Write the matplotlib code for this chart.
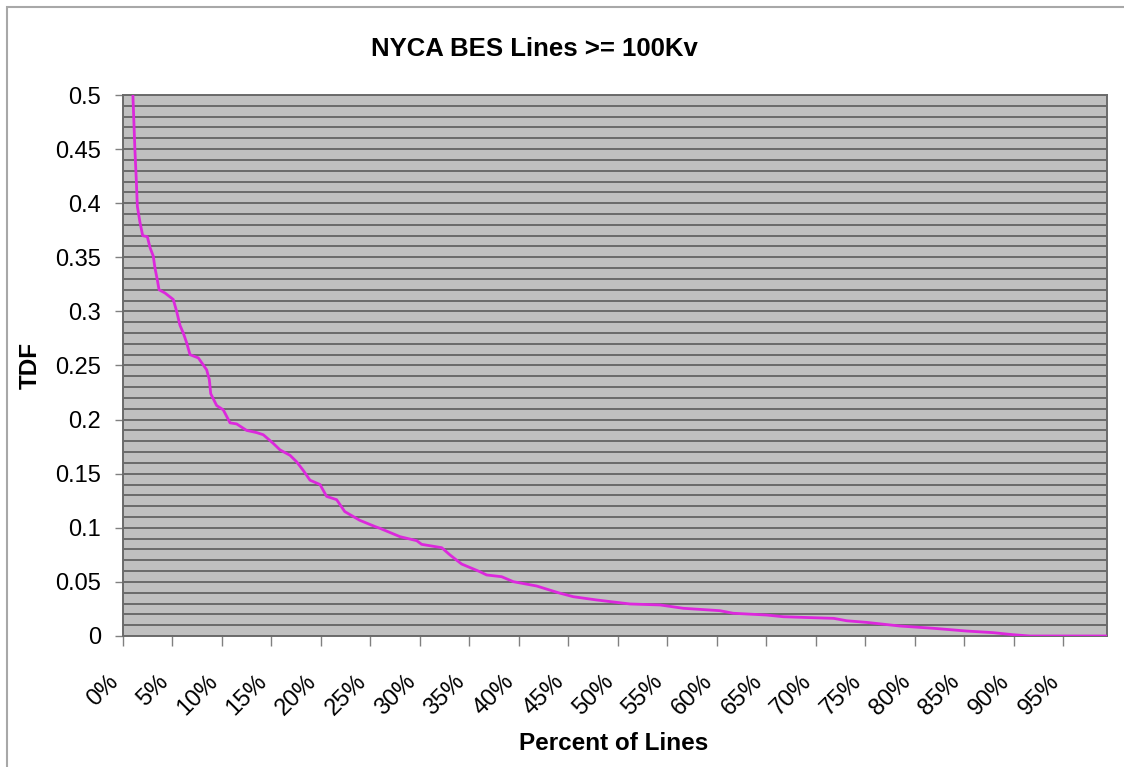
"""NYCA BES lines >= 100 kV: TDF distribution curve (Excel-style recreation)."""
import matplotlib
matplotlib.use("Agg")
import matplotlib.pyplot as plt
import matplotlib.transforms as mtransforms
from matplotlib.patches import Rectangle
from matplotlib.ticker import MultipleLocator, FuncFormatter

plt.rcParams["font.family"] = ["Liberation Sans", "DejaVu Sans"]

# Percent of lines (x) vs TDF (y)
pct_lines = [
    1.0, 1.2, 1.35, 1.45, 1.72, 1.99, 2.46, 2.73, 3.06, 3.23, 3.47, 3.64,
    4.24, 5.08, 5.42, 5.76, 6.09, 6.43, 6.77, 7.61, 8.45, 8.72, 8.86, 9.46,
    10.13, 10.81, 11.48, 12.49, 13.5, 14.17, 15.18, 15.86, 16.87, 17.54,
    18.21, 18.89, 19.9, 20.57, 21.58, 22.4, 23.9, 25.5, 25.96, 27.98, 29.67,
    30.17, 32.2, 33.03, 34.21, 36.06, 36.74, 38.25, 39.43, 41.79, 43.97,
    45.49, 47.85, 51.21, 54.24, 56.6, 60.3, 61.65, 65.0, 66.7, 71.8, 73.1,
    75.1, 78.5, 81.9, 85.2, 87.9, 89.9, 91.6, 99.4,
]
tdf = [
    0.5, 0.45, 0.42, 0.397, 0.382, 0.370, 0.369, 0.359, 0.351, 0.340, 0.329,
    0.320, 0.317, 0.311, 0.300, 0.287, 0.280, 0.271, 0.260, 0.257, 0.246,
    0.237, 0.224, 0.213, 0.209, 0.197, 0.196, 0.190, 0.188, 0.186, 0.178,
    0.172, 0.167, 0.161, 0.153, 0.144, 0.140, 0.129, 0.126, 0.115, 0.107,
    0.101, 0.0995, 0.0918, 0.0881, 0.0847, 0.0816, 0.0749, 0.0665, 0.0594,
    0.0564, 0.0548, 0.0502, 0.0462, 0.040, 0.0363, 0.0333, 0.0296, 0.0287,
    0.0256, 0.0234, 0.021, 0.0194, 0.0178, 0.0163, 0.0141, 0.0126, 0.0092,
    0.0071, 0.0046, 0.0031, 0.0012, 0.0, 0.0,
]
x_ticks = list(range(0, 100, 5))

W, H = 1124, 767
fig = plt.figure(figsize=(W / 100, H / 100), dpi=100)
ax = fig.add_axes([123 / W, 1 - 636 / H, (1107 - 123) / W, (636 - 95) / H])

ax.set_facecolor("#c0c0c0")
ax.plot(pct_lines, tdf, color="#dc28dc", linewidth=2.0, clip_on=True, zorder=3)

ax.set_xlim(0, 99.4)
ax.set_ylim(0, 0.5)
ax.yaxis.set_major_locator(MultipleLocator(0.05))
ax.yaxis.set_minor_locator(MultipleLocator(0.01))
ax.yaxis.set_major_formatter(FuncFormatter(lambda v, _: f"{v:.2f}".rstrip("0").rstrip(".") if v else "0"))
ax.set_xticks(x_ticks)
ax.set_xticklabels([f"{t}%" for t in x_ticks], rotation=45, ha="right", va="top")
offset = mtransforms.ScaledTranslation(-8 / 100, 0, fig.dpi_scale_trans)
for lbl in ax.get_xticklabels():
    lbl.set_transform(lbl.get_transform() + offset)

ax.grid(True, which="both", axis="y", color="#636363", linewidth=1.3, zorder=1)
ax.set_axisbelow(True)
ax.tick_params(axis="y", which="major", length=6, width=1, color="#808080",
               labelsize=17, pad=10)
ax.tick_params(axis="y", which="minor", length=0)
ax.tick_params(axis="x", length=7, width=1, color="#808080", labelsize=17, pad=18)
for s in ax.spines.values():
    s.set_color("#6a6a6a")
    s.set_linewidth(1.4)

fig.text(534 / W, 1 - 49 / H, "NYCA BES Lines >= 100Kv", ha="center", va="center",
         fontsize=18.5, fontweight="bold")
fig.text(614 / W, 1 - 743 / H, "Percent of Lines", ha="center", va="center",
         fontsize=17.5, fontweight="bold")
fig.text(30 / W, 1 - 365 / H, "TDF", ha="center", va="center", rotation=90,
         fontsize=17.5, fontweight="bold")

# outer chart border (right/bottom edges fall outside the image)
fig.patches.append(Rectangle((7 / W, -0.1), 1.2, 1.1 - 7 / H,
                             transform=fig.transFigure, fill=False,
                             edgecolor="#a8a8a8", linewidth=1.5))

fig.savefig("out.png", dpi=100)
